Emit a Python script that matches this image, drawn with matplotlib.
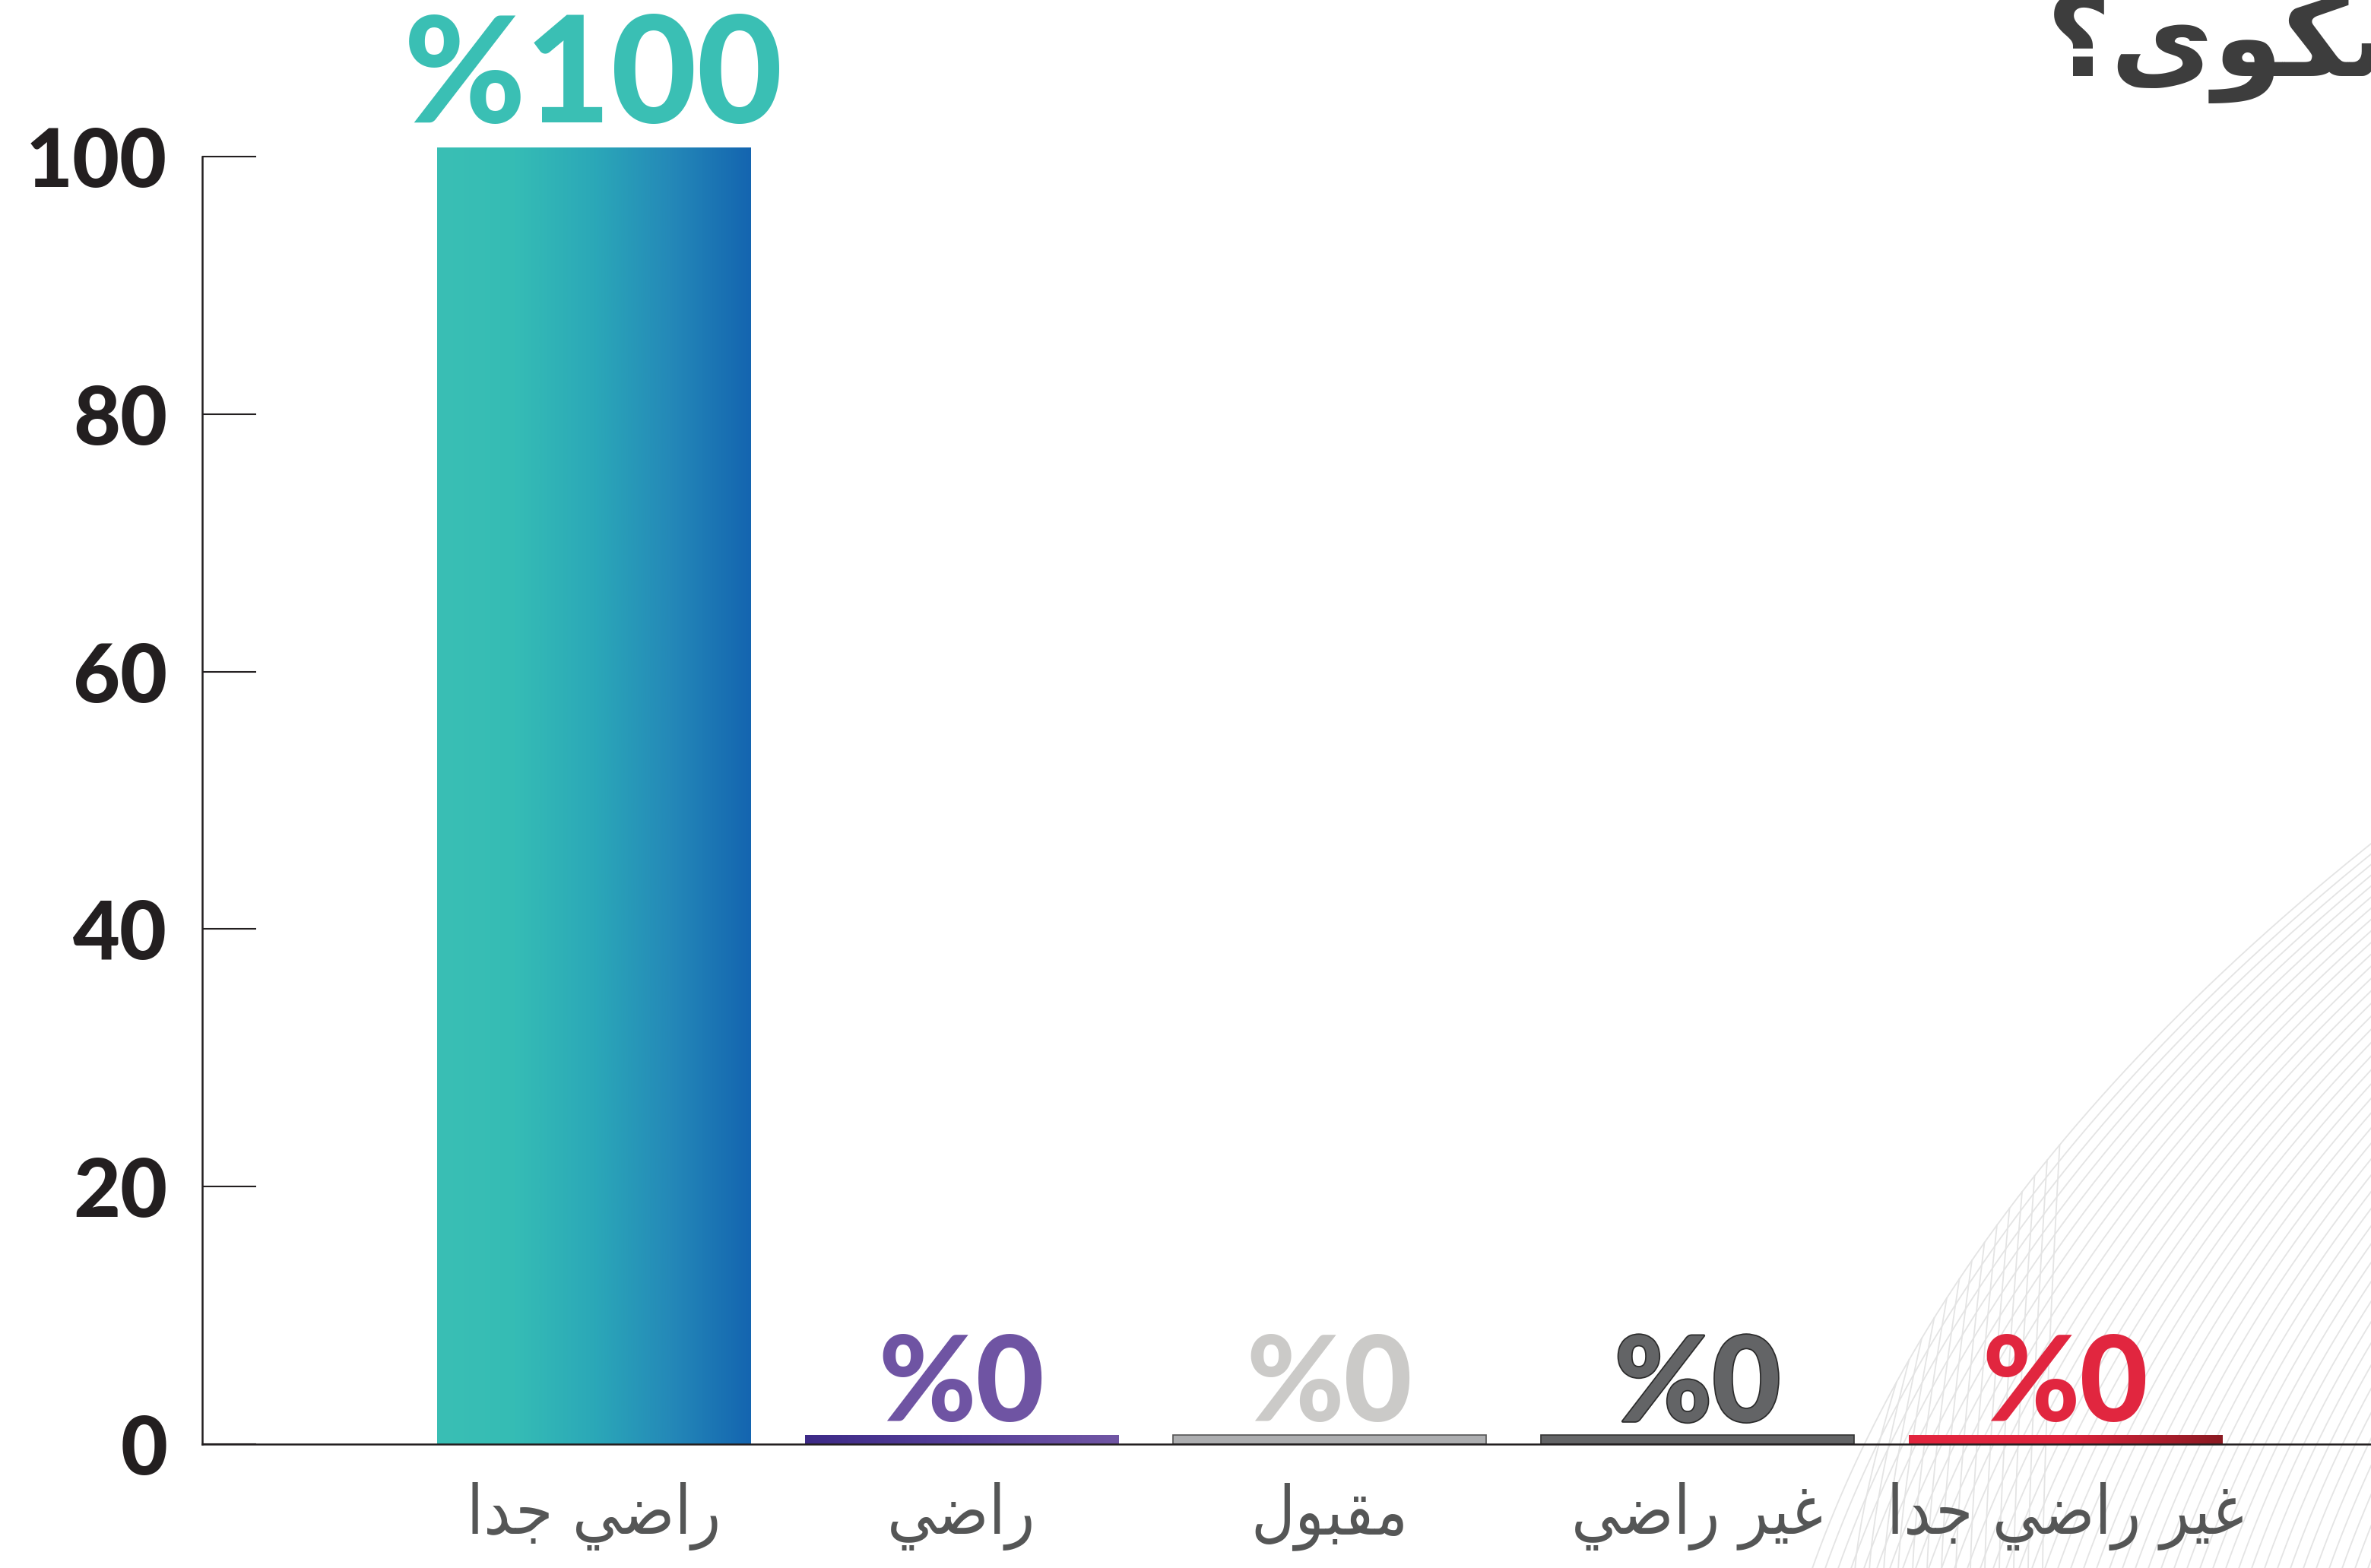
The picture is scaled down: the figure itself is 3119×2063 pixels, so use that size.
import numpy as np
import matplotlib
matplotlib.use("Agg")
import matplotlib.pyplot as plt
from matplotlib.colors import LinearSegmentedColormap
from matplotlib import patheffects as pe
from matplotlib import font_manager as fm

# ---------------- data ----------------
categories = ["راضي جدا", "راضي", "مقبول", "غير راضي", "غير راضي جدا"]
values = [100, 0, 0, 0, 0]
yticks = [0, 20, 40, 60, 80, 100]
title_text = "الشكوى؟"

# ---------------- styles ----------------
bar_fills = [
    ["#3abfb4", "#35bcb5", "#2ba8b8", "#2488b8", "#1465b0"],
    ["#3d2a87", "#57409a", "#7156a4"],
    None,
    None,
    ["#e3263f", "#de243d", "#8b1a22"],
]
solid_colors = ["#3abfb4", "#5a449a", "#adaeb0", "#636466", "#e1263f"]
edge_colors = ["none", "none", "#555555", "#333333", "none"]
label_colors = ["#3abfb4", "#6f54a3", "#cbcac8", "#636466", "#e1263f"]
stub = 0.7  # minimum visible bar height

# ---------------- Arabic shaping (visual order for rendering) ----------------
FORMS = {
    'ا': (0xFE8D, 0xFE8E, None, None),
    'ب': (0xFE8F, 0xFE90, 0xFE91, 0xFE92),
    'ج': (0xFE9D, 0xFE9E, 0xFE9F, 0xFEA0),
    'د': (0xFEA9, 0xFEAA, None, None),
    'ر': (0xFEAD, 0xFEAE, None, None),
    'ش': (0xFEB5, 0xFEB6, 0xFEB7, 0xFEB8),
    'ض': (0xFEBD, 0xFEBE, 0xFEBF, 0xFEC0),
    'غ': (0xFECD, 0xFECE, 0xFECF, 0xFED0),
    'ق': (0xFED5, 0xFED6, 0xFED7, 0xFED8),
    'ك': (0xFED9, 0xFEDA, 0xFEDB, 0xFEDC),
    'ل': (0xFEDD, 0xFEDE, 0xFEDF, 0xFEE0),
    'م': (0xFEE1, 0xFEE2, 0xFEE3, 0xFEE4),
    'و': (0xFEED, 0xFEEE, None, None),
    'ى': (0xFEEF, 0xFEF0, None, None),
    'ي': (0xFEF1, 0xFEF2, 0xFEF3, 0xFEF4),
}


def shape(s):
    out = []
    for i, ch in enumerate(s):
        if ch not in FORMS:
            out.append(ch)
            continue
        f = FORMS[ch]
        prev = s[i - 1] if i > 0 else None
        nxt = s[i + 1] if i + 1 < len(s) else None
        jp = prev in FORMS and FORMS[prev][2] is not None
        jn = f[2] is not None and nxt in FORMS
        if jp and jn:
            cp = f[3]
        elif jp:
            cp = f[1]
        elif jn:
            cp = f[2]
        else:
            cp = f[0]
        out.append(chr(cp))
    return "".join(out)[::-1]


# x-label font: condensed DejaVu if present
cond = [f.fname for f in fm.fontManager.ttflist
        if "DejaVuSansCondensed.ttf" in f.fname]
if cond:
    xlab_fp = fm.FontProperties(fname=cond[0], size=64)
else:
    xlab_fp = fm.FontProperties(family="DejaVu Sans", size=58)

W, H = 3119, 2063
fig = plt.figure(figsize=(W / 100, H / 100), dpi=100)
fig.patch.set_facecolor("white")

# ---------------- decorative background mesh ----------------
bg = fig.add_axes([0, 0, 1, 1], zorder=0)
bg.set_xlim(0, W)
bg.set_ylim(H, 0)
bg.axis("off")
t = np.linspace(0, 1, 300)
P0 = np.array([2380, 2075])
P1 = np.array([2590, 1470])
P2 = np.array([3320, 960])
env = ((1 - t)[:, None] ** 2) * P0 + (2 * t * (1 - t))[:, None] * P1 + (t ** 2)[:, None] * P2
mesh_col = "#e4e4e4"
for s in np.arange(0, 800, 17):
    bg.plot(env[:, 0] + s, env[:, 1], color=mesh_col, lw=1.3, zorder=0)
# crossing near-vertical strands in the lower-left part of the wave
ex, ey = env[:, 0], env[:, 1]
for j in range(14):
    xb = 2440 + j * 19
    xt = xb + 55 - j * 2.5
    yt = np.interp(xt, ex, ey)
    tt = np.linspace(0, 1, 60)
    xs = xb + (xt - xb) * tt ** 1.4
    ys = 2070 + (yt - 2070) * tt
    bg.plot(xs, ys, color=mesh_col, lw=1.3, zorder=0)

# ---------------- main axes ----------------
ax = fig.add_axes([266 / W, 1 - 1900 / H, 1 - 266 / W, 1900 / H], zorder=1)
ax.set_facecolor("none")
px_per_unit = (1900 - 206) / 100
ax.set_ylim(0, 1900 / px_per_unit)
ax.set_xlim(-1.064, 4.8306)

x = np.arange(len(categories))
heights = [v + stub for v in values]
bars = ax.bar(x, heights, width=0.853, color=solid_colors, edgecolor=edge_colors,
              linewidth=1.2, zorder=2)

for i, (b, fill) in enumerate(zip(bars, bar_fills)):
    if fill is None:
        continue
    cmap = LinearSegmentedColormap.from_list(f"g{i}", fill)
    x0, y0 = b.get_x(), b.get_y()
    w, h = b.get_width(), b.get_height()
    grad = np.linspace(0, 1, 256).reshape(1, -1)
    im = ax.imshow(grad, cmap=cmap, aspect="auto", extent=[x0, x0 + w, y0, y0 + h],
                   zorder=3, interpolation="bicubic")
    im.set_clip_path(b)

# value labels
vmax = max(values)
for i, v in enumerate(values):
    big = v == vmax
    ann = ax.annotate(f"%{v}", xy=(x[i], heights[i]), xytext=(0, 24 if big else 13),
                      textcoords="offset points", ha="center", va="baseline",
                      fontsize=140 if big else 112, fontfamily="Lato", fontweight=900,
                      color=label_colors[i], zorder=4, annotation_clip=False)
    if i == 3:
        ann.set_path_effects([pe.withStroke(linewidth=2.5, foreground="#2b2b2b")])

# axes styling
for sp in ["top", "right"]:
    ax.spines[sp].set_visible(False)
ax.spines["left"].set_bounds(0, 100)
for sp in ["left", "bottom"]:
    ax.spines[sp].set_color("#231f20")
    ax.spines[sp].set_linewidth(1.8)
    ax.spines[sp].set_zorder(5)

ax.set_yticks(yticks)
ax.set_yticklabels([str(v) for v in yticks], fontfamily="Lato", fontweight=900,
                   fontsize=77, color="#231f20")
ax.tick_params(axis="y", direction="in", length=51, width=1.5, color="#231f20", pad=33)

ax.set_xticks(x)
ax.set_xticklabels([shape(c) for c in categories], fontproperties=xlab_fp,
                   color="#555656")
ax.tick_params(axis="x", length=0, pad=36)

# title (cut off by the right edge as in the source)
fig.text(2692 / W, 1 - 100 / H, shape(title_text), fontsize=106, fontweight="bold",
         fontfamily="DejaVu Sans", color="#3d3d3d", ha="left", va="baseline")

fig.savefig("out.png", dpi=100, facecolor="white")
